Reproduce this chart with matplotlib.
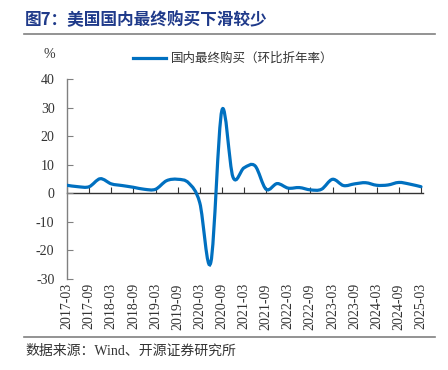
import matplotlib

matplotlib.use("Agg")
import matplotlib.pyplot as plt
from matplotlib.lines import Line2D
from matplotlib.path import Path
from matplotlib.patches import PathPatch

# ── Data: US final sales to domestic purchasers, q/q saar (%) ────────────────
quarter_idx = list(range(33))  # 2017Q1 .. 2025Q1
final_purchases = [
    2.8, 2.3, 2.3, 5.1, 3.3, 2.7, 2.1, 1.4, 1.4, 4.4, 4.9, 3.6,
    -3.3, -24.2, 29.0, 5.7, 8.9, 9.6, 1.4, 3.4, 1.8, 2.0, 1.2, 1.4,
    4.9, 2.7, 3.3, 3.7, 2.8, 2.9, 3.8, 3.2, 2.3,
]
tick_labels = [
    "2017-03", "2017-09", "2018-03", "2018-09", "2019-03", "2019-09",
    "2020-03", "2020-09", "2021-03", "2021-09", "2022-03", "2022-09",
    "2023-03", "2023-09", "2024-03", "2024-09", "2025-03",
]
y_ticks = [40, 30, 20, 10, 0, -10, -20, -30]

LINE_C = "#0070C0"
TEXT_C = "#333333"
SERIF = ["Liberation Serif", "Noto Sans CJK SC"]
CJK = ["Noto Sans CJK SC", "DejaVu Sans"]


def smooth_path(xs, ys):
    """Catmull-Rom style bezier through the points (like an Excel smoothed line)."""
    pts = list(zip(xs, ys))
    n = len(pts)
    verts = [pts[0]]
    codes = [Path.MOVETO]
    for i in range(n - 1):
        p0 = pts[i - 1] if i > 0 else pts[i]
        p1 = pts[i]
        p2 = pts[i + 1]
        p3 = pts[i + 2] if i + 2 < n else pts[i + 1]
        c1 = (p1[0] + (p2[0] - p0[0]) / 6, p1[1] + (p2[1] - p0[1]) / 6)
        c2 = (p2[0] - (p3[0] - p1[0]) / 6, p2[1] - (p3[1] - p1[1]) / 6)
        verts += [c1, c2, p2]
        codes += [Path.CURVE4] * 3
    return Path(verts, codes)


fig = plt.figure(figsize=(4.48, 3.70), dpi=100)
ax = fig.add_axes([67 / 448, 1 - 279 / 370, 356 / 448, 200 / 370])

ax.add_patch(
    PathPatch(
        smooth_path(quarter_idx, final_purchases),
        fill=False, edgecolor=LINE_C, lw=2.3, capstyle="round", zorder=3,
    )
)

ax.set_xlim(0, 32 * 356 / 354)
ax.set_ylim(-30, 40)

for s in ["top", "right", "bottom"]:
    ax.spines[s].set_visible(False)
ax.spines["left"].set_color("#808080")
ax.spines["left"].set_linewidth(1.0)

ax.set_yticks(y_ticks)
ax.set_yticklabels([str(v) for v in y_ticks], family=SERIF, fontsize=10, color=TEXT_C)
ax.tick_params(axis="y", direction="in", length=4, color="#808080", pad=9)

ax.set_xticks(quarter_idx[::2])
ax.set_xticklabels(tick_labels, rotation=90, family=SERIF, fontsize=10, color=TEXT_C)
ax.tick_params(axis="x", length=0, pad=3)

# zero line with upward tick marks
zero_frac = (0 - (-30)) / 70
sec = ax.secondary_xaxis(zero_frac)
sec.set_xticks(quarter_idx[::2])
sec.set_xticklabels([])
sec.tick_params(axis="x", direction="in", length=4, color="#333333", width=0.8)
sec.spines["bottom"].set_color("#333333")
sec.spines["bottom"].set_linewidth(1.0)
sec.spines["top"].set_color("#333333")
sec.spines["top"].set_linewidth(1.0)

handle = Line2D([], [], color=LINE_C, lw=2.3)
fig.legend(
    [handle], ["国内最终购买（环比折年率）"],
    loc="center left", bbox_to_anchor=(133 / 448, 1 - 58.5 / 370),
    frameon=False, borderpad=0, borderaxespad=0,
    handlelength=2.6, handletextpad=0.45,
    prop={"family": CJK, "size": 9},
    labelcolor=TEXT_C,
)

fig.text(49 / 448, 1 - 55 / 370, "%", family=SERIF, fontsize=10, color=TEXT_C,
         ha="center", va="center")

fig.text(25 / 448, 1 - 20 / 370, "图7：美国国内最终购买下滑较少",
         family=CJK, fontsize=12, fontweight="bold", color="#1F3A8A",
         ha="left", va="center")
fig.add_artist(Line2D([24 / 448, 435 / 448], [1 - 34 / 370] * 2,
                      transform=fig.transFigure, color="#808080", lw=1.2))
fig.add_artist(Line2D([24 / 448, 435 / 448], [1 - 337 / 370] * 2,
                      transform=fig.transFigure, color="#808080", lw=1.2))
fig.text(25 / 448, 1 - 351 / 370, "数据来源：Wind、开源证券研究所",
         family=SERIF, fontsize=10, color=TEXT_C, ha="left", va="center")

fig.savefig("out.png", dpi=100, facecolor="white")
